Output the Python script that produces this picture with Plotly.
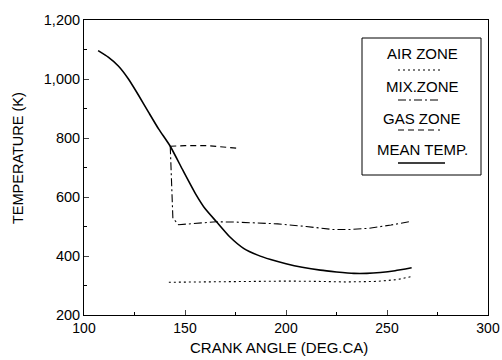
import plotly.graph_objects as go

# ---- data ----
mean_x = [107, 112, 117, 122, 127, 132, 137, 142.7, 149, 155.3, 160, 165.6, 172, 179, 186, 192.4,
          200, 208, 217, 225, 233.6, 240, 246.7, 254, 262.2]
mean_t = [1096, 1074, 1044, 1000, 945, 887, 830, 772, 690, 610, 560, 516, 466, 426, 403, 388,
          374, 362, 352, 346, 341, 341, 344, 350, 360]

air_x = [142, 155, 170, 185, 200, 215, 230, 245, 255, 262]
air_t = [311, 312, 313, 314, 315, 314, 312, 314, 320, 330]

mix_x = [142.7, 144, 146.8, 155, 165.6, 175, 185.3, 195.9, 210, 223, 232, 241, 252, 262.2]
mix_t = [772, 528, 506, 510, 516, 515, 512, 509, 500, 490, 490, 494, 505, 518]

gas_x = [142.7, 150, 161, 170, 177]
gas_t = [772, 774, 774, 770, 765]

legend_names = ["AIR ZONE", "MIX.ZONE", "GAS ZONE", "MEAN TEMP."]
x_ticks = [100, 150, 200, 250, 300]
y_ticks = [200, 400, 600, 800, 1000, 1200]

FONT = "Liberation Sans, Arial, sans-serif"
dashes = ["2px,3px", "8px,3px,2px,3px", "6px,4px", "solid"]

# plot area in page pixels
PL, PR, PT, PB = 84, 488, 20, 315


def px(wx):
    return (wx - PL) / (PR - PL)


def py(wy):
    return 1 - (wy - PT) / (PB - PT)


fig = go.Figure()
fig.add_trace(go.Scatter(x=air_x, y=air_t, mode="lines", name=legend_names[0],
                         line=dict(color="black", width=1.1, dash=dashes[0])))
fig.add_trace(go.Scatter(x=mix_x, y=mix_t, mode="lines", name=legend_names[1],
                         line=dict(color="black", width=1.1, dash=dashes[1])))
fig.add_trace(go.Scatter(x=gas_x, y=gas_t, mode="lines", name=legend_names[2],
                         line=dict(color="black", width=1.2, dash=dashes[2])))
fig.add_trace(go.Scatter(x=mean_x, y=mean_t, mode="lines", name=legend_names[3],
                         line=dict(color="black", width=1.6, shape="spline", smoothing=0.5)))

# custom legend (text above line sample, boxed)
text_wy = [53, 87, 118, 150]
samp_wy = [70, 100, 130, 163]
for name, ty, sy, d in zip(legend_names, text_wy, samp_wy, dashes):
    fig.add_annotation(x=px(422), y=py(ty), xref="paper", yref="paper", text=name, showarrow=False,
                       font=dict(family=FONT, size=15, color="black"), xanchor="center", yanchor="middle")
    x1 = 440 if name != "MEAN TEMP." else 445
    fig.add_shape(type="line", xref="paper", yref="paper", x0=px(398), x1=px(x1), y0=py(sy), y1=py(sy),
                  line=dict(color="black", width=1.1 if d != "solid" else 1.6, dash=d))
fig.add_shape(type="rect", xref="paper", yref="paper", x0=px(362), x1=px(481), y0=py(175), y1=py(38),
              line=dict(color="black", width=1))

# axis titles
fig.add_annotation(x=px(279), y=py(347), xref="paper", yref="paper", text="CRANK ANGLE (DEG.CA)",
                   showarrow=False, font=dict(family=FONT, size=15, color="black"),
                   xanchor="center", yanchor="middle")
fig.add_annotation(x=px(18), y=py(158), xref="paper", yref="paper", text="TEMPERATURE (K)",
                   showarrow=False, textangle=-90, font=dict(family=FONT, size=14.5, color="black"),
                   xanchor="center", yanchor="middle")

fig.update_layout(
    width=502, height=360,
    margin=dict(l=PL, r=502 - PR, t=PT, b=360 - PB),
    paper_bgcolor="white", plot_bgcolor="white",
    showlegend=False,
    font=dict(family=FONT, size=14, color="black"),
)
fig.update_xaxes(range=[100, 300], tickvals=x_ticks, ticks="inside", ticklen=5,
                 showgrid=False, zeroline=False, showline=True, linecolor="black", linewidth=1,
                 mirror=True, tickfont=dict(size=14), automargin=False,
                 minor=dict(ticks="inside", ticklen=3, dtick=25, tickcolor="black"))
fig.update_yaxes(range=[200, 1200], tickvals=y_ticks, tickformat=",", ticks="inside", ticklen=5,
                 showgrid=False, zeroline=False, showline=True, linecolor="black", linewidth=1,
                 mirror=True, tickfont=dict(size=14.5), automargin=False,
                 minor=dict(ticks="inside", ticklen=3, dtick=100, tickcolor="black"))

fig.write_html("out.html", config={"displayModeBar": False},
               post_script="document.body.style.margin='0';document.body.style.overflow='hidden';")
